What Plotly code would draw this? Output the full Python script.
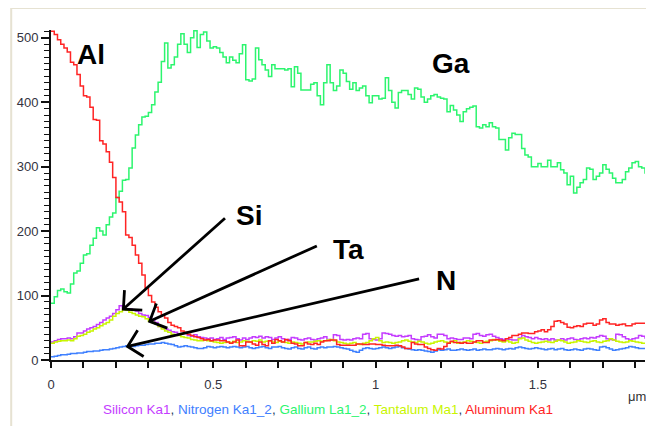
import math
import plotly.graph_objects as go

# ---- data (counts vs depth, sampled every 0.01 um) ----
depth_step_um = 0.01

silicon_ka1 = [
    28, 30, 32, 33, 33, 34, 33, 36, 42, 42,
    45, 48, 50, 52, 55, 58, 62, 65, 68, 72,
    78, 84, 80, 78, 79, 77, 76, 72, 70, 69,
    66, 62, 58, 52, 50, 48, 46, 44, 43, 40,
    41, 41, 38, 37, 39, 36, 35, 34, 33, 34,
    32, 33, 35, 32, 34, 35, 36, 33, 31, 34,
    32, 34, 36, 35, 37, 34, 36, 35, 32, 34,
    36, 33, 31, 32, 35, 34, 32, 31, 33, 34,
    32, 31, 33, 34, 36, 32, 31, 39, 38, 32,
    31, 32, 31, 33, 34, 33, 40, 41, 33, 32,
    31, 33, 42, 41, 40, 38, 37, 38, 36, 37,
    38, 33, 32, 31, 36, 37, 39, 36, 34, 40,
    40, 38, 33, 34, 33, 32, 32, 34, 34, 33,
    40, 41, 38, 37, 39, 40, 37, 35, 33, 32,
    33, 32, 31, 31, 34, 38, 36, 35, 33, 35,
    33, 32, 33, 31, 33, 31, 31, 33, 31, 33,
    34, 32, 31, 33, 34, 33, 35, 34, 36, 38,
    37, 33, 32, 31, 40, 39, 36, 33, 31, 33,
    34, 38, 37, 33,
]

nitrogen_ka1_2 = [
    5, 6, 7, 8, 8, 9, 10, 10, 11, 11,
    12, 13, 13, 14, 14, 15, 16, 16, 17, 18,
    19, 20, 21, 22, 22, 21, 22, 23, 23, 24,
    25, 25, 26, 26, 27, 26, 25, 24, 22, 20,
    21, 22, 21, 20, 19, 18, 18, 19, 21, 20,
    19, 20, 21, 20, 19, 20, 21, 20, 19, 20,
    21, 19, 18, 19, 20, 21, 19, 18, 20, 20,
    21, 19, 18, 17, 19, 20, 18, 17, 19, 20,
    18, 17, 19, 20, 19, 20, 20, 21, 20, 19,
    18, 17, 15, 13, 12, 15, 18, 19, 18, 17,
    18, 19, 20, 19, 18, 19, 20, 21, 19, 18,
    17, 16, 15, 16, 15, 14, 13, 12, 14, 16,
    15, 16, 17, 15, 15, 16, 17, 16, 15, 16,
    17, 15, 16, 17, 16, 16, 17, 18, 17, 16,
    17, 18, 17, 19, 20, 19, 18, 17, 18, 19,
    18, 17, 16, 17, 18, 16, 17, 18, 16, 15,
    16, 17, 16, 15, 17, 18, 17, 16, 15, 20,
    21, 19, 17, 15, 16, 17, 18, 19, 21, 20,
    19, 18, 18, 17,
]

gallium_la1_2 = [
    88, 98, 108, 110, 106, 104, 118, 135, 138, 150,
    163, 165, 178, 189, 205, 200, 194, 210, 222, 228,
    252, 262, 279, 280, 298, 329, 349, 365, 377, 378,
    384, 396, 416, 431, 463, 492, 453, 458, 470, 490,
    506, 490, 477, 500, 511, 485, 505, 509, 495, 484,
    486, 484, 477, 470, 461, 470, 465, 461, 475, 489,
    435, 433, 436, 484, 466, 458, 450, 440, 458, 452,
    452, 452, 450, 452, 424, 455, 445, 419, 419, 419,
    428, 430, 410, 396, 430, 458, 430, 418, 425, 450,
    445, 432, 420, 430, 418, 422, 425, 410, 399, 410,
    410, 405, 406, 438, 418, 400, 391, 415, 418, 418,
    412, 405, 422, 420, 408, 400, 405, 410, 412, 408,
    406, 405, 385, 395, 388, 380, 370, 385, 390, 392,
    394, 362, 360, 365, 362, 368, 362, 360, 342, 342,
    326, 345, 352, 350, 350, 328, 318, 315, 300, 300,
    305, 300, 300, 310, 300, 300, 306, 295, 290, 272,
    285, 259, 268, 275, 280, 298, 296, 280, 285, 290,
    303, 296, 290, 282, 275, 275, 280, 292, 298, 306,
    308, 300, 298, 289,
]

tantalum_ma1 = [
    26, 28, 29, 30, 30, 31, 30, 33, 37, 38,
    40, 43, 45, 48, 50, 53, 56, 58, 62, 68,
    72, 75, 78, 77, 74, 72, 70, 68, 67, 64,
    60, 58, 56, 52, 48, 45, 43, 40, 39, 38,
    36, 35, 34, 32, 31, 30, 30, 31, 30, 29,
    28, 27, 26, 27, 28, 27, 29, 27, 28, 30,
    29, 28, 30, 29, 31, 28, 29, 30, 28, 27,
    29, 28, 27, 26, 28, 27, 26, 25, 27, 28,
    28, 29, 30, 29, 30, 31, 32, 30, 28, 27,
    26, 25, 26, 27, 25, 24, 26, 27, 30, 33,
    35, 30, 27, 28, 27, 26, 27, 28, 30, 31,
    29, 28, 27, 29, 28, 26, 25, 26, 28, 29,
    30, 28, 27, 28, 30, 26, 27, 28, 30, 29,
    28, 27, 26, 28, 29, 30, 32, 31, 29, 28,
    30, 28, 26, 27, 33, 34, 31, 29, 27, 26,
    27, 28, 29, 28, 27, 29, 31, 30, 28, 26,
    27, 28, 30, 29, 28, 27, 29, 30, 28, 27,
    29, 30, 33, 31, 29, 28, 27, 28, 30, 29,
    28, 27, 26, 27,
]

aluminum_ka1 = [
    510, 505, 497, 490, 484, 478, 462, 458, 443, 425,
    410, 408, 392, 373, 372, 340, 335, 323, 307, 283,
    252, 245, 230, 194, 190, 178, 163, 150, 132, 112,
    100, 90, 82, 75, 70, 65, 58, 54, 52, 50,
    45, 43, 40, 38, 36, 35, 33, 31, 32, 30,
    31, 31, 30, 30, 28, 26, 28, 31, 22, 22,
    28, 28, 25, 23, 28, 24, 22, 30, 26, 32,
    30, 28, 32, 30, 26, 25, 22, 22, 27, 25,
    24, 26, 24, 28, 30, 30, 31, 31, 24, 23,
    23, 23, 23, 23, 25, 25, 24, 24, 25, 25,
    24, 24, 23, 22, 22, 22, 23, 22, 20, 18,
    18, 27, 25, 24, 24, 20, 18, 16, 15, 18,
    17, 21, 26, 29, 27, 27, 26, 27, 26, 26,
    28, 30, 30, 27, 27, 31, 31, 32, 31, 30,
    33, 35, 38, 38, 40, 42, 42, 41, 41, 44,
    45, 47, 44, 47, 52, 60, 61, 58, 56, 51,
    50, 52, 53, 52, 56, 57, 57, 54, 56, 62,
    64, 58, 56, 56, 54, 55, 56, 53, 53, 56,
    57, 57, 57, 56,
]

series_names = ["Silicon Ka1", "Nitrogen Ka1_2", "Gallium La1_2", "Tantalum Ma1", "Aluminum Ka1"]
series_values = [silicon_ka1, nitrogen_ka1_2, gallium_la1_2, tantalum_ma1, aluminum_ka1]
series_colors = ["#c43cff", "#3f80ff", "#2cf56e", "#c8f500", "#ff2424"]

x_tick_vals = [0, 0.5, 1, 1.5]
y_tick_vals = [0, 100, 200, 300, 400, 500]
X_RANGE = [0, 1.83]
Y_RANGE = [0, 512]

# element labels (text, x, y) and arrows (head x, head y, tail x, tail y)
element_labels = [("Al", 0.123, 474), ("Ga", 1.233, 460), ("Si", 0.610, 224),
                  ("Ta", 0.917, 172), ("N", 1.217, 124)]
arrows = [(0.223, 79, 0.536, 220), (0.304, 60, 0.819, 177), (0.236, 21, 1.134, 126)]

FONT = "Liberation Sans, Arial, sans-serif"

# plot-area size in pixels (used to draw open V arrowheads with equal arms)
PLOT_W, PLOT_H = 597, 330
sx = PLOT_W / (X_RANGE[1] - X_RANGE[0])
sy = PLOT_H / (Y_RANGE[1] - Y_RANGE[0])

fig = go.Figure()
for name, vals, col in zip(series_names, series_values, series_colors):
    xs = [round(i * depth_step_um, 2) for i in range(len(vals))]
    fig.add_trace(go.Scatter(x=xs, y=vals, mode="lines", name=name,
                             line=dict(color=col, width=1.5, shape="hv"),
                             showlegend=False, hoverinfo="skip"))

shapes = [dict(type="rect", xref="paper", yref="paper",
               x0=-0.0670, x1=1.092, y0=-0.242, y1=1.0667,
               line=dict(color="#e6e2d2", width=2), layer="below")]
ARM_LEN = 19
ARM_ANG = math.radians(45)
for hx, hy, tx, ty in arrows:
    shapes.append(dict(type="line", xref="x", yref="y", x0=tx, y0=ty, x1=hx, y1=hy,
                       line=dict(color="black", width=2.8)))
    dx, dy = (tx - hx) * sx, (ty - hy) * sy
    n = math.hypot(dx, dy)
    ux, uy = dx / n, dy / n
    pts = []
    for s in (1, -1):
        c, si = math.cos(s * ARM_ANG), math.sin(s * ARM_ANG)
        ax_ = ux * c - uy * si
        ay_ = ux * si + uy * c
        pts.append((hx + ARM_LEN * ax_ / sx, hy + ARM_LEN * ay_ / sy))
    path = "M %f,%f L %f,%f L %f,%f" % (pts[0][0], pts[0][1], hx, hy, pts[1][0], pts[1][1])
    shapes.append(dict(type="path", xref="x", yref="y", path=path,
                       line=dict(color="black", width=2.8)))

annotations = []
for txt, x, y in element_labels:
    annotations.append(dict(x=x, y=y, xref="x", yref="y", text="<b>%s</b>" % txt,
                            showarrow=False, font=dict(family=FONT, size=28, color="black")))

legend_html = ", ".join("<span style='color:%s'>%s</span>" % (c, n)
                        for n, c in zip(series_names, series_colors))
annotations.append(dict(x=0.467, y=-0.1515, xref="paper", yref="paper", text=legend_html,
                        showarrow=False, xanchor="center", yanchor="middle",
                        font=dict(family=FONT, size=13.5)))
annotations.append(dict(x=0.9866, y=-0.112, xref="paper", yref="paper", text="μm",
                        showarrow=False, xanchor="center", yanchor="middle",
                        font=dict(family=FONT, size=13, color="#333333")))

# The page body has an 8px margin, so the figure is 8px smaller and offset.
fig.update_layout(
    width=646, height=418,
    margin=dict(l=40, r=9, t=22, b=66, pad=0),
    paper_bgcolor="white", plot_bgcolor="white",
    annotations=annotations,
    shapes=shapes,
    xaxis=dict(range=X_RANGE, showgrid=False, zeroline=False,
               showline=True, linecolor="#111111", linewidth=2,
               tickmode="array", tickvals=x_tick_vals,
               ticktext=[str(v) for v in x_tick_vals],
               ticks="outside", ticklen=6, tickwidth=1.5, tickcolor="#111111",
               minor=dict(dtick=0.1, tick0=0, ticks="outside", ticklen=6,
                          tickwidth=1.5, tickcolor="#111111", showgrid=False),
               ticklabelstandoff=5,
               tickfont=dict(family=FONT, size=13, color="#333340")),
    yaxis=dict(range=Y_RANGE, showgrid=False, zeroline=False,
               showline=True, linecolor="#111111", linewidth=2,
               tickmode="array", tickvals=y_tick_vals,
               ticks="outside", ticklen=8, tickwidth=1.5, tickcolor="#111111",
               minor=dict(dtick=10, tick0=0, ticks="outside", ticklen=5,
                          tickwidth=1.2, tickcolor="#111111", showgrid=False),
               tickfont=dict(family=FONT, size=13, color="#333340")),
)

fig.write_html("out.html")
